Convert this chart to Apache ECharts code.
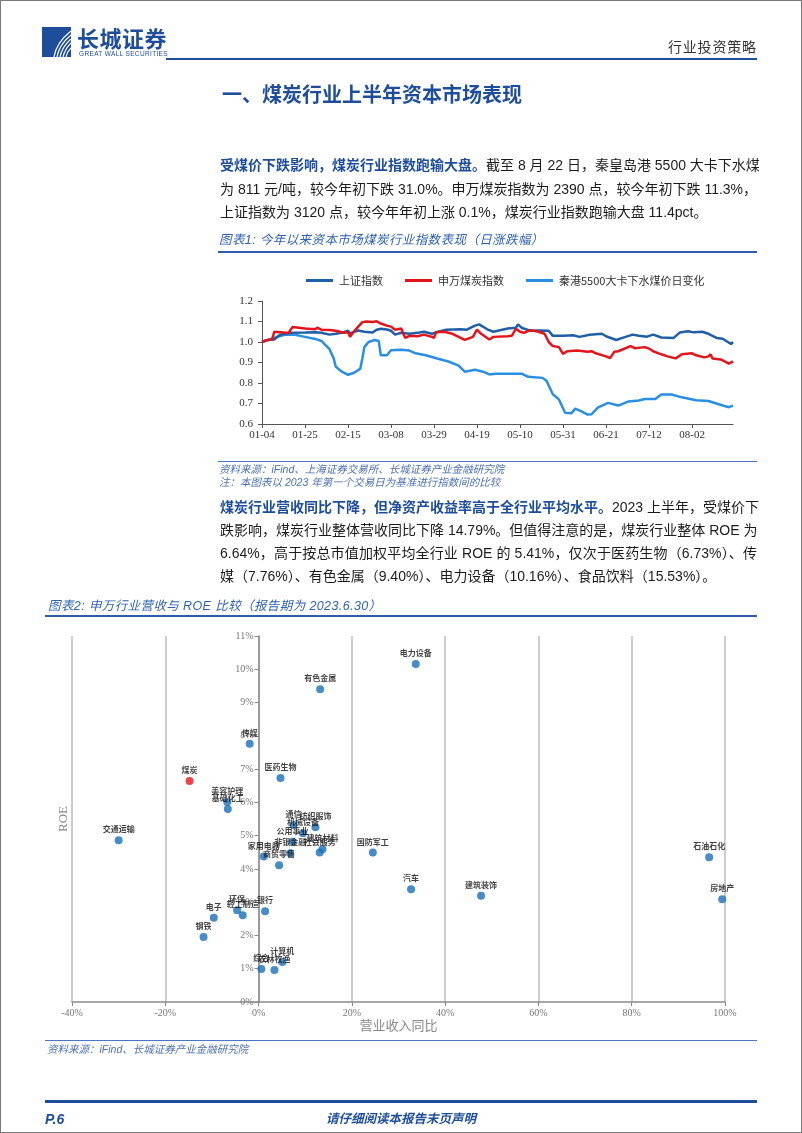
<!DOCTYPE html>
<html><head><meta charset="utf-8">
<script src="https://cdn.jsdelivr.net/npm/echarts@6.0.0/dist/echarts.min.js"></script>
<style>
html,body{margin:0;padding:0;background:#fff;}
body{width:802px;height:1133px;position:relative;overflow:hidden;font-family:"Liberation Sans","Noto Sans CJK SC",sans-serif;}
#frame{position:absolute;left:0;top:0;width:802px;height:1133px;box-sizing:border-box;border:1px solid #7a7a7a;z-index:5;pointer-events:none;}
#chart{position:absolute;left:0;top:0;width:802px;height:1133px;z-index:1;}
.t{position:absolute;white-space:nowrap;z-index:3;line-height:16px;}
.hl{position:absolute;z-index:3;}
.pl{position:absolute;left:220px;width:537px;font-size:14px;line-height:16px;text-align:justify;text-align-last:justify;color:#1c1c1c;white-space:nowrap;z-index:3;}
.pl.last{text-align-last:left;}
.b{color:#1e4d9b;font-weight:bold;}
.cap{font-size:12.5px;font-style:italic;color:#2f62b0;letter-spacing:0.4px;}
.src{font-size:10.5px;font-style:italic;color:#4d72b0;}
</style></head>
<body>
<div id="frame"></div>
<div id="chart"></div>

<!-- header -->
<svg class="hl" style="left:42px;top:27px" width="29" height="30" viewBox="0 0 29 30">
  <rect x="0" y="0" width="29" height="30" fill="#1e4d9b"/>
  <path d="M12 30 Q14 16 29 4" stroke="#fff" stroke-width="1.2" fill="none"/>
  <path d="M15 30 Q17 18 29 8" stroke="#fff" stroke-width="1.2" fill="none"/>
  <path d="M18 30 Q20 20 29 12" stroke="#fff" stroke-width="1.2" fill="none"/>
  <path d="M21 30 Q23 22 29 16" stroke="#fff" stroke-width="1.2" fill="none"/>
  <path d="M24 30 Q25 25 29 21" stroke="#fff" stroke-width="1.2" fill="none"/>
</svg>
<div class="t" style="left:77px;top:28px;font-size:22px;line-height:24px;font-weight:bold;color:#1e4d9b;letter-spacing:0.5px;">长城证券</div>
<div class="t" style="left:79px;top:50px;font-size:6.5px;line-height:8px;color:#1e4d9b;letter-spacing:0.35px;">GREAT WALL SECURITIES</div>
<div class="t" style="left:668px;top:39px;font-size:14px;color:#333;letter-spacing:0.8px;">行业投资策略</div>
<div class="hl" style="left:166px;top:58px;width:591px;height:2px;background:#1e4d9b;"></div>

<div class="t" style="left:222px;top:84px;font-size:20px;line-height:22px;font-weight:bold;color:#1e4d9b;">一、煤炭行业上半年资本市场表现</div>

<div class="pl" style="top:157px;"><span class="b">受煤价下跌影响，煤炭行业指数跑输大盘。</span>截至 8 月 22 日，秦皇岛港 5500 大卡下水煤</div>
<div class="pl" style="top:181px;">为 811 元/吨，较今年初下跌 31.0%。申万煤炭指数为 2390 点，较今年初下跌 11.3%，</div>
<div class="pl last" style="top:204px;">上证指数为 3120 点，较今年年初上涨 0.1%，煤炭行业指数跑输大盘 11.4pct。</div>

<div class="t cap" style="left:219px;top:232px;">图表1: 今年以来资本市场煤炭行业指数表现（日涨跌幅）</div>
<div class="hl" style="left:218px;top:251px;width:539px;height:1.5px;background:#2f5ea8;"></div>

<div class="hl" style="left:218px;top:461px;width:539px;height:1px;background:#4a78c0;"></div>
<div class="t src" style="left:219px;top:461px;">资料来源：iFind、上海证券交易所、长城证券产业金融研究院</div>
<div class="t src" style="left:219px;top:474px;">注：本图表以 2023 年第一个交易日为基准进行指数间的比较</div>

<div class="pl" style="top:499px;"><span class="b">煤炭行业营收同比下降，但净资产收益率高于全行业平均水平。</span>2023 上半年，受煤价下</div>
<div class="pl" style="top:522px;">跌影响，煤炭行业整体营收同比下降 14.79%。但值得注意的是，煤炭行业整体 ROE 为</div>
<div class="pl" style="top:545px;">6.64%，高于按总市值加权平均全行业 ROE 的 5.41%，仅次于医药生物（6.73%）、传</div>
<div class="pl last" style="top:568px;">媒（7.76%）、有色金属（9.40%）、电力设备（10.16%）、食品饮料（15.53%）。</div>

<div class="t cap" style="left:48px;top:598px;">图表2: 申万行业营收与 ROE 比较（报告期为 2023.6.30）</div>
<div class="hl" style="left:45px;top:615px;width:712px;height:1.5px;background:#2f5ea8;"></div>

<div class="hl" style="left:45px;top:1040px;width:712px;height:1px;background:#4a78c0;"></div>
<div class="t src" style="left:47px;top:1041px;">资料来源：iFind、长城证券产业金融研究院</div>

<div class="hl" style="left:45px;top:1100px;width:712px;height:2.5px;background:#1e4d9b;"></div>
<div class="t" style="left:45px;top:1111px;font-size:14px;font-weight:bold;font-style:italic;color:#1e4d9b;">P.6</div>
<div class="t" style="left:326px;top:1111px;font-size:12.5px;font-weight:bold;font-style:italic;color:#1e4d9b;">请仔细阅读本报告末页声明</div>

<script>
// ---------- Chart 1 data ----------
const seriesNames = ['上证指数', '申万煤炭指数', '秦港5500大卡下水煤价日变化'];
const yTicks1 = { min: 0.6, max: 1.2, step: 0.1 };

const shIndex = [
['01-04',1.000],['01-06',1.008],['01-10',1.012],['01-12',1.030],['01-13',1.036],['01-18',1.045],['01-25',1.046],['01-30',1.048],['02-02',1.045],['02-06',1.036],['02-09',1.040],['02-13',1.048],['02-15',1.055],['02-16',1.042],['02-20',1.056],['02-23',1.050],['02-27',1.046],['03-01',1.060],['03-03',1.065],['03-06',1.061],['03-08',1.055],['03-10',1.036],['03-13',1.045],['03-17',1.040],['03-22',1.046],['03-24',1.050],['03-28',1.040],['03-31',1.050],['04-04',1.060],['04-11',1.062],['04-14',1.060],['04-18',1.080],['04-20',1.086],['04-24',1.062],['04-27',1.050],['05-04',1.066],['05-08',1.070],['05-09',1.086],['05-11',1.068],['05-15',1.055],['05-19',1.056],['05-24',1.055],['05-26',1.030],['05-31',1.030],['06-05',1.033],['06-08',1.025],['06-13',1.035],['06-19',1.040],['06-21',1.028],['06-26',1.010],['06-29',1.020],['07-04',1.036],['07-07',1.030],['07-11',1.026],['07-14',1.036],['07-18',1.022],['07-24',1.020],['07-27',1.046],['07-31',1.052],['08-03',1.047],['08-07',1.050],['08-10',1.040],['08-14',1.020],['08-17',1.016],['08-21',0.990],['08-22',1.000]
];
const swCoal = [
['01-04',1.000],['01-06',1.008],['01-09',1.015],['01-10',1.050],['01-13',1.048],['01-17',1.044],['01-18',1.060],['01-19',1.073],['01-25',1.066],['01-30',1.062],['01-31',1.070],['02-02',1.060],['02-06',1.058],['02-09',1.055],['02-13',1.045],['02-15',1.048],['02-16',1.025],['02-17',1.040],['02-20',1.075],['02-22',1.097],['02-24',1.100],['02-27',1.098],['03-01',1.101],['03-03',1.090],['03-06',1.080],['03-08',1.075],['03-10',1.060],['03-13',1.066],['03-14',1.040],['03-15',1.020],['03-17',1.030],['03-21',1.028],['03-24',1.036],['03-28',1.025],['03-29',1.020],['03-30',1.048],['04-03',1.050],['04-07',1.040],['04-10',1.025],['04-13',1.010],['04-17',1.025],['04-19',1.060],['04-21',1.040],['04-25',1.012],['04-27',1.025],['05-04',1.028],['05-06',1.030],['05-08',1.065],['05-10',1.050],['05-12',1.045],['05-15',1.058],['05-19',1.050],['05-22',1.040],['05-24',1.000],['05-26',0.980],['05-29',0.975],['05-31',0.942],['06-02',0.955],['06-07',0.958],['06-12',0.952],['06-14',0.955],['06-16',0.945],['06-21',0.930],['06-23',0.921],['06-25',0.952],['06-27',0.955],['07-03',0.980],['07-05',0.970],['07-10',0.975],['07-12',0.968],['07-14',0.955],['07-18',0.940],['07-21',0.930],['07-25',0.920],['07-28',0.940],['08-02',0.945],['08-04',0.935],['08-08',0.925],['08-10',0.930],['08-11',0.940],['08-12',0.920],['08-16',0.915],['08-20',0.895],['08-22',0.905]
];
const qhdCoal = [
['01-04',1.000],['01-10',1.020],['01-15',1.035],['01-20',1.035],['01-25',1.025],['01-30',1.015],['02-02',1.005],['02-04',0.985],['02-06',0.965],['02-08',0.920],['02-09',0.880],['02-12',0.855],['02-15',0.840],['02-18',0.850],['02-21',0.870],['02-22',0.920],['02-23',0.975],['02-25',1.000],['02-28',1.010],['03-02',1.005],['03-03',0.935],['03-06',0.935],['03-08',0.960],['03-13',0.962],['03-17',0.958],['03-20',0.945],['03-25',0.935],['03-31',0.918],['04-05',0.905],['04-10',0.885],['04-13',0.855],['04-18',0.865],['04-22',0.855],['04-25',0.842],['04-28',0.845],['05-11',0.845],['05-14',0.830],['05-21',0.825],['05-23',0.810],['05-26',0.745],['05-29',0.720],['06-01',0.655],['06-04',0.652],['06-06',0.675],['06-09',0.662],['06-12',0.646],['06-14',0.648],['06-17',0.680],['06-22',0.703],['06-27',0.690],['07-02',0.710],['07-07',0.715],['07-10',0.722],['07-15',0.722],['07-18',0.744],['07-23',0.744],['07-28',0.730],['08-04',0.716],['08-10',0.712],['08-17',0.690],['08-20',0.682],['08-22',0.690]
];

// ---------- Chart 2 data ----------
const industries = ['电力设备','有色金属','传媒','医药生物','煤炭','美容护理','基础化工','交通运输','通信','纺织服饰','机械设备','公用事业','非银金融','社会服务','建筑材料','家用电器','商贸零售','国防军工','汽车','建筑装饰','石油石化','房地产','环保','轻工制造','银行','电子','钢铁','计算机','综合','农林牧渔'];
const revenueYoY = [33.7,13.2,-1.9,4.7,-14.8,-6.7,-6.6,-30.0,7.5,12.2,9.5,7.3,6.8,13.1,13.7,1.1,4.4,24.5,32.7,47.7,96.6,99.4,-4.6,-3.4,1.4,-9.6,-11.8,5.1,0.6,3.4];
const roe = [10.16,9.40,7.76,6.73,6.64,6.01,5.80,4.86,5.32,5.25,5.07,4.82,4.47,4.49,4.59,4.37,4.11,4.49,3.39,3.19,4.35,3.09,2.76,2.61,2.73,2.53,1.95,1.20,0.99,0.96];
const highlight = '煤炭';
const xTicks2 = { min: -40, max: 100, step: 20 };
const yTicks2 = { min: 0, max: 11, step: 1 };

// calendar-day categories for chart 1 (2023-01-04 .. 2023-08-22)
const dates = [];
(function(){
  const d = new Date(Date.UTC(2023,0,4));
  const end = new Date(Date.UTC(2023,7,22));
  while (d <= end) {
    const m = String(d.getUTCMonth()+1).padStart(2,'0');
    const dd = String(d.getUTCDate()).padStart(2,'0');
    dates.push(m + '-' + dd);
    d.setUTCDate(d.getUTCDate()+1);
  }
})();

const lineColors = ['#1f5fa8', '#e3141b', '#2a8fe2'];
const lineData = [shIndex, swCoal, qhdCoal];

const scatterData = industries.map((n, i) => {
  const item = { name: n, value: [revenueYoY[i], roe[i]] };
  if (n === highlight) item.itemStyle = { color: '#e8141c' };
  return item;
});

// grid 2 geometry: put the ROE axis where revenue growth = 0
const g2 = { left: 72, top: 636, width: 653, height: 366 };
const yAxisShift = (0 - xTicks2.min) / (xTicks2.max - xTicks2.min) * g2.width;

const chart = echarts.init(document.getElementById('chart'), null, { renderer: 'canvas' });
chart.setOption({
  animation: false,
  backgroundColor: 'transparent',
  legend: {
    left: 301, top: 270,
    icon: 'rect', itemWidth: 27, itemHeight: 3, itemGap: 22,
    data: seriesNames,
    textStyle: { fontFamily: 'Noto Sans CJK SC', fontSize: 11, color: '#333', padding: [0, 0, 0, 1] }
  },
  grid: [
    { left: 262, top: 301, width: 471, height: 123, outerBoundsMode: 'none' },
    Object.assign({ outerBoundsMode: 'none' }, g2)
  ],
  xAxis: [
    {
      gridIndex: 0, type: 'category', data: dates, boundaryGap: false,
      axisLine: { lineStyle: { color: '#555', width: 1 } },
      axisTick: { show: true, interval: 20, length: 4, lineStyle: { color: '#555' } },
      axisLabel: { interval: 20, fontFamily: 'Liberation Serif', fontSize: 11, color: '#333', margin: 6 },
      splitLine: { show: false }
    },
    {
      gridIndex: 1, type: 'value', min: xTicks2.min, max: xTicks2.max, interval: xTicks2.step,
      axisLine: { onZero: false, lineStyle: { color: '#8a8a8a', width: 1.5 } },
      axisTick: { show: true, length: 4, lineStyle: { color: '#8a8a8a' } },
      axisLabel: { formatter: v => v + '%', fontFamily: 'Liberation Serif', fontSize: 10, color: '#777', margin: 6 },
      splitLine: { show: true, lineStyle: { color: '#cdcdcd', width: 2 } },
      name: '营业收入同比', nameLocation: 'middle', nameGap: 17,
      nameTextStyle: { fontFamily: 'Noto Sans CJK SC', fontSize: 13, color: '#888' }
    }
  ],
  yAxis: [
    {
      gridIndex: 0, type: 'value', min: yTicks1.min, max: yTicks1.max, interval: yTicks1.step,
      axisLine: { show: true, lineStyle: { color: '#555', width: 1 } },
      axisTick: { show: true, length: 4, lineStyle: { color: '#555' } },
      axisLabel: { formatter: v => v.toFixed(1), fontFamily: 'Liberation Serif', fontSize: 11, color: '#333', margin: 9 },
      splitLine: { show: false }
    },
    {
      gridIndex: 1, type: 'value', min: yTicks2.min, max: yTicks2.max, interval: yTicks2.step,
      position: 'left', offset: -yAxisShift,
      axisLine: { show: true, onZero: false, lineStyle: { color: '#8a8a8a', width: 1.5 } },
      axisTick: { show: true, length: 4, lineStyle: { color: '#8a8a8a' } },
      axisLabel: { formatter: v => v + '%', fontFamily: 'Liberation Serif', fontSize: 10, color: '#777', margin: 5 },
      splitLine: { show: false },
      name: 'ROE', nameLocation: 'middle', nameGap: 188, nameRotate: 90,
      nameTextStyle: { fontFamily: 'Liberation Serif', fontSize: 13, color: '#888' }
    }
  ],
  series: [
    ...seriesNames.map((n, i) => ({
      name: n, type: 'line', xAxisIndex: 0, yAxisIndex: 0,
      symbol: 'none', data: lineData[i],
      lineStyle: { color: lineColors[i], width: 2.5 },
      itemStyle: { color: lineColors[i] },
      z: i === 2 ? 2 : (i === 1 ? 4 : 3)
    })),
    {
      type: 'scatter', xAxisIndex: 1, yAxisIndex: 1,
      data: scatterData, symbolSize: 8,
      itemStyle: { color: '#1a6fb9' },
      label: {
        show: true, position: 'top', distance: 3, formatter: '{b}',
        fontFamily: 'Noto Sans CJK SC', fontSize: 8, fontWeight: 'bold', color: '#111'
      },
      z: 5
    }
  ]
});
</script>
</body></html>
